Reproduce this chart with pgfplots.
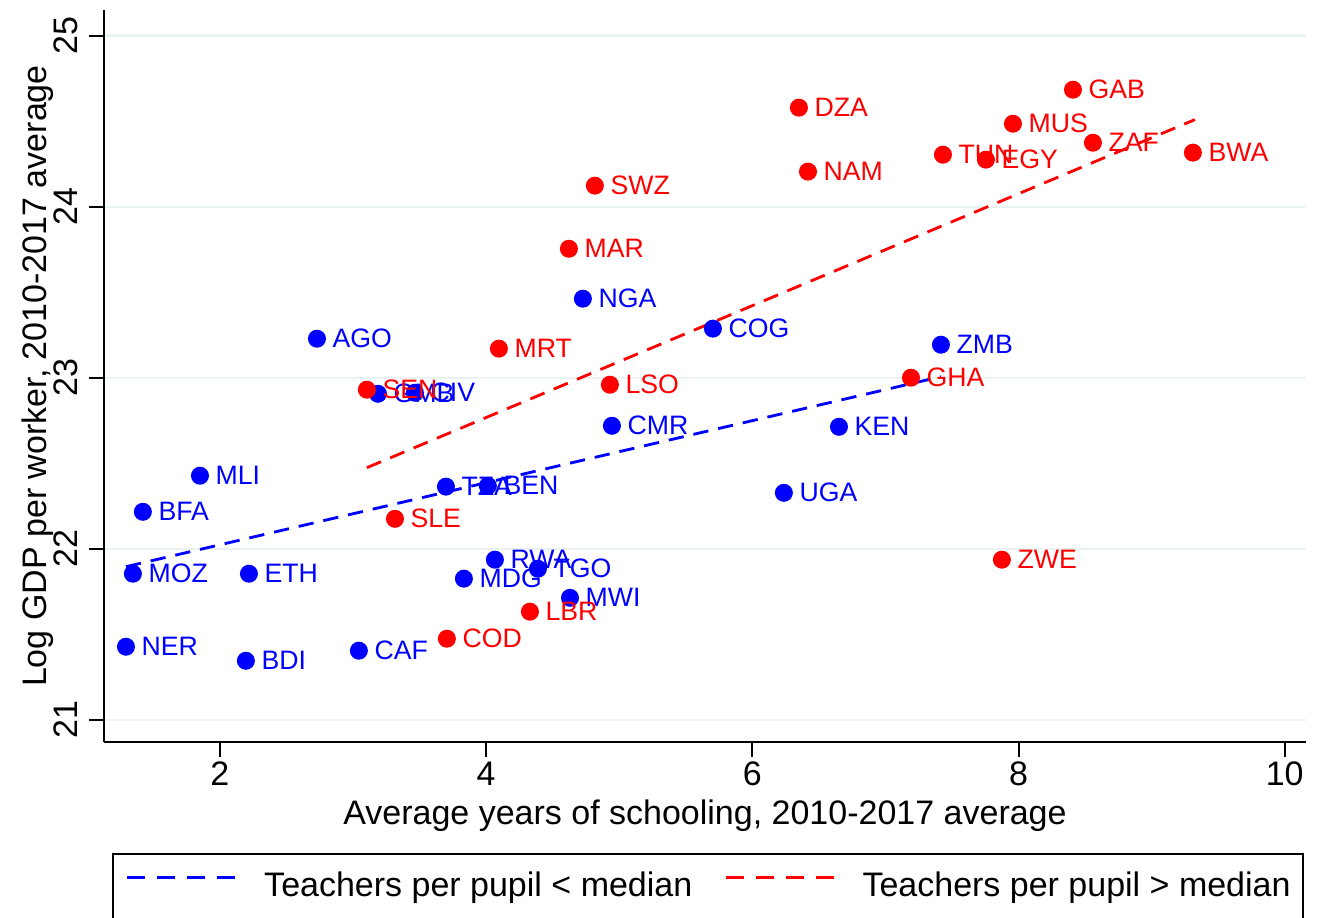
\documentclass[border=0pt]{standalone}
\usepackage{fontspec}
\setmainfont{Liberation Sans}
\usepackage{pgfplots}
\pgfplotsset{compat=1.18}
\usepackage{pgfplotstable}
\definecolor{gridc}{RGB}{234,242,243}
\definecolor{sblue}{RGB}{0,0,255}
\definecolor{sred}{RGB}{255,0,0}

\pgfplotstableread{
x y lab
1.294 21.427 NER
2.195 21.345 BDI
3.044 21.404 CAF
1.346 21.854 MOZ
2.218 21.854 ETH
1.421 22.216 BFA
1.850 22.427 MLI
2.729 23.228 AGO
3.187 22.906 GMB
3.465 22.912 CIV
3.698 22.363 TZA
4.013 22.368 BEN
3.833 21.825 MDG
4.066 21.936 RWA
4.389 21.883 TGO
4.630 21.713 MWI
4.727 23.462 NGA
4.945 22.719 CMR
5.704 23.287 COG
6.237 22.327 UGA
6.651 22.713 KEN
7.417 23.193 ZMB
}\bluedata

\pgfplotstableread{
x y lab
3.104 22.930 SEN
3.315 22.175 SLE
3.705 21.474 COD
4.329 21.632 LBR
4.096 23.170 MRT
4.930 22.959 LSO
4.622 23.754 MAR
4.817 24.123 SWZ
6.350 24.579 DZA
6.418 24.205 NAM
7.432 24.304 TUN
7.755 24.275 EGY
7.958 24.485 MUS
8.409 24.684 GAB
8.559 24.374 ZAF
9.310 24.316 BWA
7.192 23.000 GHA
7.875 21.936 ZWE
}\reddata

\begin{document}
\begin{tikzpicture}
\begin{axis}[
  scale only axis,
  width=360.6pt, height=219.6pt,
  xmin=1.129, xmax=10.16,
  ymin=20.87, ymax=25.15,
  axis x line*=bottom, axis y line*=left,
  axis line style={-, line width=0.8pt, black},
  xtick={2,4,6,8,10}, ytick={21,22,23,24,25},
  tick align=outside,
  major tick length=4.4pt,
  tick style={line width=0.6pt, black},
  ymajorgrids,
  grid style={gridc, line width=0.7pt},
  /pgf/number format/assume math mode=true,
  ticklabel style={font=\fontsize{10.2}{12}\selectfont},
  xticklabel style={yshift=2pt},
  yticklabel style={rotate=90, anchor=south},
  xlabel={Average years of schooling, 2010-2017 average},
  ylabel={Log GDP per worker, 2010-2017 average},
  label style={font=\fontsize{10.2}{12}\selectfont},
  xlabel style={at={(axis description cs:0.5,0)}, anchor=center, yshift=-22pt},
  ylabel style={at={(axis description cs:0,0.5)}, anchor=center, yshift=20pt},
  legend style={at={(0.5,0)}, anchor=north, yshift=-33.3pt, xshift=1pt,
    legend columns=2, draw=black, line width=0.6pt,
    inner xsep=3.8pt, inner ysep=5.5pt,
    font=\fontsize{10.2}{12}\selectfont,
    nodes={inner xsep=0pt, inner ysep=0pt},
    /tikz/every odd column/.append style={column sep=8.2pt},
    /tikz/every even column/.append style={column sep=9.6pt}},
  legend image code/.code={\draw[#1, dash pattern=on 5.4pt off 3.6pt] (0pt,0.3em) -- (32.4pt,0.3em);},
  every node near coord/.append style={anchor=west, xshift=4.5pt, inner sep=0pt, font=\fontsize{8}{9}\selectfont},
  clip=false,
]
\addplot[sblue, line width=0.85pt, dash pattern=on 4.6pt off 3pt] coordinates {(1.294,21.895) (7.417,23.006)};
\addlegendentry{Teachers per pupil < median}
\addplot[sred, line width=0.85pt, dash pattern=on 4.6pt off 3pt] coordinates {(3.104,22.474) (9.325,24.509)};
\addlegendentry{Teachers per pupil > median}
\addplot[only marks, mark=*, mark size=2.5pt, sblue, mark options={draw=sblue, fill=sblue},
  nodes near coords, point meta=explicit symbolic,
  every node near coord/.append style={text=sblue}] table[x=x, y=y, meta=lab] {\bluedata};
\addplot[only marks, mark=*, mark size=2.5pt, sred, mark options={draw=sred, fill=sred},
  nodes near coords, point meta=explicit symbolic,
  every node near coord/.append style={text=sred}] table[x=x, y=y, meta=lab] {\reddata};
\end{axis}
\pgfresetboundingbox
\path ([shift={(-31.2pt,-52.5pt)}]current axis.south west) rectangle ([shift={(6pt,3pt)}]current axis.north east);
\end{tikzpicture}
\end{document}
